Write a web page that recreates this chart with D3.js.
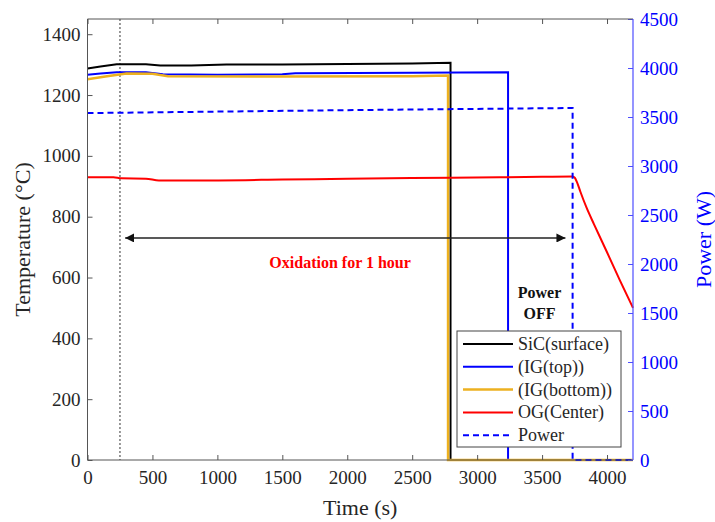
<!DOCTYPE html>
<html>
<head>
<meta charset="utf-8">
<script src="https://cdn.jsdelivr.net/npm/d3@7/dist/d3.min.js"></script>
<style>
    body { margin: 0; background: #fff; }
    svg { font-family: "Liberation Serif", "Times New Roman", serif; }
</style>
</head>
<body>
<div id="chart"></div>
<script>
// series (time in s, temperature in °C, power in W)
const sicTime = [0, 100, 225, 450, 560, 800, 1070, 1500, 2000, 2500, 2795, 2795, 4200];
const sicTemp = [1287, 1294, 1301, 1301, 1297, 1297, 1300, 1300, 1302, 1304, 1306, 0, 0];

const igTopTime = [0, 100, 225, 450, 580, 1000, 1500, 1600, 2500, 3238, 3238, 4200];
const igTopTemp = [1267, 1271, 1275, 1275, 1268, 1267, 1268, 1272, 1273, 1275, 0, 0];

const igBotTime = [0, 150, 300, 500, 620, 1500, 2500, 2776, 2776, 4200];
const igBotTemp = [1252, 1262, 1271, 1270, 1262, 1261, 1262, 1264, 0, 0];

const ogTime = [0, 200, 260, 450, 550, 800, 1500, 2000, 2800, 3500, 3735, 3752, 3770, 3795, 3840, 3900, 4000, 4100, 4200];
const ogTemp = [930, 930, 926, 925, 919, 919, 922, 925, 928, 931, 932, 928, 912, 882, 832, 775, 683, 590, 500];

const powerTime = [0, 2000, 3735, 3735, 4200];
const powerVal = [3540, 3570, 3592, 0, 0];

const xTicks = [0, 500, 1000, 1500, 2000, 2500, 3000, 3500, 4000];
const yTicks = [0, 200, 400, 600, 800, 1000, 1200, 1400];
const y2Ticks = [0, 500, 1000, 1500, 2000, 2500, 3000, 3500, 4000, 4500];

const legendNames = ["SiC(surface)", "(IG(top))", "(IG(bottom))", "OG(Center)", "Power"];
const legendColors = ["#000000", "#0000ff", "#edb120", "#ff0000", "#0000ff"];

const width = 715, height = 522;
const plotL = 87.5, plotR = 633, plotT = 19, plotB = 460;
const serif = "'Liberation Serif', 'Times New Roman', serif";

const svg = d3.select("#chart").append("svg")
    .attr("width", width)
    .attr("height", height);

const x = d3.scaleLinear().domain([0, 4200]).range([plotL, plotR]);
const y = d3.scaleLinear().domain([0, 1450]).range([plotB, plotT]);
const y2 = d3.scaleLinear().domain([0, 4500]).range([plotB, plotT]);

const axisGray = "#555";
const textGray = "#262626";
const fmt = d3.format("d");

// time marker for oxidation start
svg.append("line")
    .attr("x1", x(250)).attr("x2", x(250))
    .attr("y1", plotT).attr("y2", plotB)
    .attr("stroke", "#555").attr("stroke-width", 1.2)
    .attr("stroke-dasharray", "2,2");

function series(tArr, vArr, scale) {
    return tArr.map((t, i) => ({ t: t, v: vArr[i], s: scale }));
}
const line = d3.line()
    .x(d => x(d.t))
    .y(d => d.s(d.v));
const smoothLine = d3.line()
    .x(d => x(d.t))
    .y(d => d.s(d.v))
    .curve(d3.curveMonotoneX);

const allSeries = [
    { data: series(sicTime, sicTemp, y), color: legendColors[0], dash: null, w: 2, gen: line },
    { data: series(igTopTime, igTopTemp, y), color: legendColors[1], dash: null, w: 2, gen: line },
    { data: series(igBotTime, igBotTemp, y), color: legendColors[2], dash: null, w: 2.5, gen: line },
    { data: series(ogTime, ogTemp, y), color: legendColors[3], dash: null, w: 2, gen: smoothLine },
    { data: series(powerTime, powerVal, y2), color: legendColors[4], dash: "6,4", w: 2, gen: line }
];

allSeries.forEach(s => {
    svg.append("path")
        .attr("d", s.gen(s.data))
        .attr("fill", "none")
        .attr("stroke", s.color)
        .attr("stroke-width", s.w)
        .attr("stroke-dasharray", s.dash);
});

// double arrow
const defs = svg.append("defs");
defs.append("marker")
    .attr("id", "arr")
    .attr("viewBox", "0 0 10 10")
    .attr("refX", 10).attr("refY", 5)
    .attr("markerWidth", 9).attr("markerHeight", 9)
    .attr("markerUnits", "userSpaceOnUse")
    .attr("orient", "auto-start-reverse")
    .append("path")
    .attr("d", "M0,0 L10,5 L0,10 z")
    .attr("fill", "#111");

svg.append("line")
    .attr("x1", x(290)).attr("x2", x(3680))
    .attr("y1", y(730)).attr("y2", y(730))
    .attr("stroke", "#222").attr("stroke-width", 1.3)
    .attr("marker-start", "url(#arr)")
    .attr("marker-end", "url(#arr)");

svg.append("text")
    .attr("x", x(1945)).attr("y", y(730) + 30)
    .attr("text-anchor", "middle")
    .attr("font-weight", "bold")
    .attr("font-size", 16)
    .attr("fill", "#ff0000")
    .text("Oxidation for 1 hour");

svg.append("text")
    .attr("x", x(3480)).attr("y", 298)
    .attr("text-anchor", "middle")
    .attr("font-weight", "bold")
    .attr("font-size", 16)
    .attr("fill", "#111")
    .text("Power");
svg.append("text")
    .attr("x", x(3480)).attr("y", 319)
    .attr("text-anchor", "middle")
    .attr("font-weight", "bold")
    .attr("font-size", 16)
    .attr("fill", "#111")
    .text("OFF");

// axes, ticks pointing inward
const gx = svg.append("g")
    .attr("transform", "translate(0," + plotB + ")")
    .call(d3.axisBottom(x).tickValues(xTicks).tickFormat(fmt).tickSize(-5).tickPadding(11));
const gxTop = svg.append("g")
    .attr("transform", "translate(0," + plotT + ")")
    .call(d3.axisTop(x).tickValues(xTicks).tickSize(-5).tickFormat(""));
const gy = svg.append("g")
    .attr("transform", "translate(" + plotL + ",0)")
    .call(d3.axisLeft(y).tickValues(yTicks).tickFormat(fmt).tickSize(-5).tickPadding(7));
const gy2 = svg.append("g")
    .attr("transform", "translate(" + plotR + ",0)")
    .call(d3.axisRight(y2).tickValues(y2Ticks).tickFormat(fmt).tickSize(-5).tickPadding(7));

[gx, gxTop, gy, gy2].forEach(g => {
    g.attr("font-family", serif).attr("font-size", 19);
    g.select(".domain").remove();
});
[gx, gxTop, gy].forEach(g => {
    g.selectAll(".tick line").attr("stroke", axisGray);
    g.selectAll(".tick text")
        .attr("fill", textGray)
        .style("font-family", serif)
        .style("font-size", "19px");
});
gy2.selectAll(".tick line").attr("stroke", "#4d4dff");
gy2.selectAll(".tick text")
    .attr("fill", "#0000ff")
    .style("font-family", serif)
    .style("font-size", "19px");

// frame: left, bottom, top gray; right blue
svg.append("path")
    .attr("d", "M" + plotR + "," + plotT + "H" + plotL + "V" + plotB + "H" + plotR)
    .attr("fill", "none")
    .attr("stroke", axisGray)
    .attr("stroke-width", 1);
svg.append("line")
    .attr("x1", plotR).attr("x2", plotR)
    .attr("y1", plotT).attr("y2", plotB)
    .attr("stroke", "#4d4dff")
    .attr("stroke-width", 1.2);

// axis titles
svg.append("text")
    .attr("x", (plotL + plotR) / 2).attr("y", 515)
    .attr("text-anchor", "middle")
    .attr("font-size", 22)
    .attr("fill", textGray)
    .text("Time (s)");
svg.append("text")
    .attr("transform", "translate(30," + ((plotT + plotB) / 2) + ") rotate(-90)")
    .attr("text-anchor", "middle")
    .attr("font-size", 22)
    .attr("fill", textGray)
    .text("Temperature (°C)");
svg.append("text")
    .attr("transform", "translate(711," + ((plotT + plotB) / 2) + ") rotate(-90)")
    .attr("text-anchor", "middle")
    .attr("font-size", 22)
    .attr("fill", "#0000ff")
    .text("Power (W)");

// legend
const lg = svg.append("g").attr("transform", "translate(457,331)");
lg.append("rect")
    .attr("width", 164).attr("height", 116)
    .attr("fill", "#fff")
    .attr("stroke", "#444").attr("stroke-width", 1);
legendNames.forEach((name, i) => {
    const ly = 13 + i * 22.8;
    lg.append("line")
        .attr("x1", 6).attr("x2", 56)
        .attr("y1", ly).attr("y2", ly)
        .attr("stroke", legendColors[i])
        .attr("stroke-width", i === 2 ? 2.5 : 2)
        .attr("stroke-dasharray", i === 4 ? "6,4" : null);
    lg.append("text")
        .attr("x", 61).attr("y", ly + 6)
        .attr("font-size", 18)
        .attr("fill", textGray)
        .text(name);
});
</script>
</body>
</html>
